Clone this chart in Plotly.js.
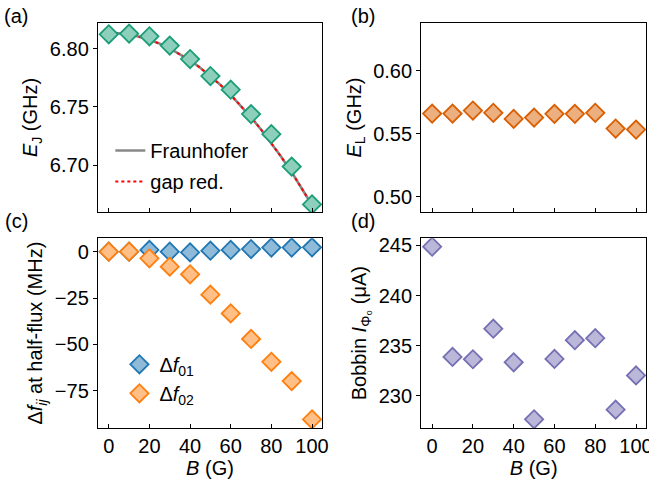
<!DOCTYPE html>
<html>
<head>
<meta charset="utf-8">
<script src="https://cdn.plot.ly/plotly-3.0.1.min.js"></script>
<style>html,body{margin:0;padding:0;background:#fff;}#chart{width:649px;height:485px;}</style>
</head>
<body>
<div id="chart"></div>
<script>
// ---- data ----
const B = [0, 10, 20, 30, 40, 50, 60, 70, 80, 90, 100];
const EJ = [6.8123, 6.8129, 6.8106, 6.8026, 6.7911, 6.7765, 6.7648, 6.7439, 6.7267, 6.6989, 6.6665];
const B_fit = [0, 5, 10, 15, 20, 25, 30, 35, 40, 45, 50, 55, 60, 65, 70, 75, 80, 85, 90, 95, 100];
const EJ_fraunhofer = [6.8135, 6.8131, 6.8120, 6.8102, 6.8076, 6.8043, 6.8002, 6.7954, 6.7899, 6.7836, 6.7766, 6.7689, 6.7604, 6.7512, 6.7412, 6.7305, 6.7191, 6.7069, 6.6940, 6.6804, 6.6660];
const EJ_gapred = [6.8135, 6.8131, 6.8120, 6.8102, 6.8076, 6.8043, 6.8002, 6.7954, 6.7899, 6.7836, 6.7766, 6.7689, 6.7604, 6.7512, 6.7412, 6.7305, 6.7191, 6.7069, 6.6940, 6.6804, 6.6660];
const EL = [0.5661, 0.5661, 0.5685, 0.5667, 0.5619, 0.5629, 0.5659, 0.5659, 0.5667, 0.5542, 0.5534];
const df01 = [0.0, 0.0, 0.9, 0.0, -0.4, 0.5, 0.9, 1.4, 2.2, 2.2, 2.3];
const df02 = [0.0, 0.0, -3.6, -8.1, -12.2, -23.2, -33.3, -47.1, -59.4, -69.8, -90.5];
const Iphi0 = [244.86, 233.88, 233.65, 236.69, 233.35, 227.67, 233.68, 235.55, 235.75, 228.63, 232.04];
const xTicks = [0, 20, 40, 60, 80, 100];
const panelLabels = ['(a)', '(b)', '(c)', '(d)'];

const FONT = 'Liberation Sans, Arial, sans-serif';
const FS = 20;

function mk(fill, edge) {
  return {symbol: 'diamond', size: 14, color: fill, line: {color: edge, width: 1.8}};
}

const traces = [
  {x: B_fit, y: EJ_fraunhofer, xaxis: 'x', yaxis: 'y', mode: 'lines', name: 'Fraunhofer',
   line: {color: '#888888', width: 2.6}, legend: 'legend', legendgroup: 'g1'},
  {x: B_fit, y: EJ_gapred, xaxis: 'x', yaxis: 'y', mode: 'lines', name: 'gap red.',
   line: {color: '#ff0000', width: 2, dash: 'dot'}, legend: 'legend', legendgroup: 'g2'},
  {x: B, y: EJ, xaxis: 'x', yaxis: 'y', mode: 'markers', showlegend: false,
   marker: mk('#8dcfbb', '#1b9e77')},
  {x: B, y: EL, xaxis: 'x2', yaxis: 'y2', mode: 'markers', showlegend: false,
   marker: mk('#ecaf80', '#d95f02')},
  {x: B, y: df01, xaxis: 'x3', yaxis: 'y3', mode: 'markers', name: 'Δ<i>f</i><sub>01</sub>',
   marker: mk('#8fbbd9', '#1f77b4'), legend: 'legend2', legendgroup: 'h1'},
  {x: B, y: df02, xaxis: 'x3', yaxis: 'y3', mode: 'markers', name: 'Δ<i>f</i><sub>02</sub>',
   marker: mk('#ffbf86', '#ff7f0e'), legend: 'legend2', legendgroup: 'h2'},
  {x: B, y: Iphi0, xaxis: 'x4', yaxis: 'y4', mode: 'markers', showlegend: false,
   marker: mk('#bab7d9', '#7570b3')}
];

const colL = [0.1510, 0.4961];
const colR = [0.6492, 0.9954];
const rowT = [0.5629, 0.9526];
const rowB = [0.1175, 0.5087];

function xax(dom, anchor, labels) {
  const a = {domain: dom, anchor: anchor, range: [-5.3, 104.9], tickvals: xTicks,
    ticks: 'inside', ticklen: 4, tickwidth: 1, tickcolor: '#000',
    showline: true, mirror: true, linecolor: '#000', linewidth: 1.2,
    showgrid: false, zeroline: false, showticklabels: labels,
    ticklabeloverflow: 'allow',
    tickfont: {family: FONT, size: FS, color: '#000'}};
  if (labels) a.title = {text: '<i>B</i> (G)', font: {family: FONT, size: FS, color: '#000'}, standoff: 4};
  return a;
}
function yax(dom, anchor, range, tickvals, fmt, title) {
  return {domain: dom, anchor: anchor, range: range, tickvals: tickvals, tickformat: fmt,
    ticks: 'outside', ticklen: 4, tickwidth: 1, tickcolor: '#000',
    showline: true, mirror: true, linecolor: '#000', linewidth: 1.2,
    showgrid: false, zeroline: false,
    tickfont: {family: FONT, size: FS, color: '#000'},
    title: {text: title, font: {family: FONT, size: FS, color: '#000'}, standoff: 6}};
}

const annPos = [[0.0247, 0.968], [0.559, 0.968], [0.0247, 0.544], [0.559, 0.544]];
const annotations = panelLabels.map((t, i) => ({
  text: t, xref: 'paper', yref: 'paper', x: annPos[i][0], y: annPos[i][1],
  xanchor: 'center', yanchor: 'middle', showarrow: false,
  font: {family: FONT, size: FS, color: '#000'}
}));

const layout = {
  width: 649, height: 485,
  margin: {l: 0, r: 0, t: 0, b: 0},
  paper_bgcolor: '#fff', plot_bgcolor: '#fff',
  showlegend: true,
  xaxis: xax(colL, 'y', false),
  yaxis: yax(rowT, 'x', [6.660, 6.822], [6.70, 6.75, 6.80], '.2f', '<i>E</i><sub>J</sub> (GHz)'),
  xaxis2: xax(colR, 'y2', false),
  yaxis2: yax(rowT, 'x2', [0.488, 0.638], [0.50, 0.55, 0.60], '.2f', '<i>E</i><sub>L</sub> (GHz)'),
  xaxis3: xax(colL, 'y3', true),
  yaxis3: yax(rowB, 'x3', [-95.1, 7.2], [-75, -50, -25, 0], 'd', 'Δ<i>f<sub>ij</sub></i> at half-flux (MHz)'),
  xaxis4: xax(colR, 'y4', true),
  yaxis4: yax(rowB, 'x4', [226.8, 245.7], [230, 235, 240, 245], 'd', 'Bobbin <i>I</i><sub>Φ₀</sub> (μA)'),
  legend: {x: 0.170, y: 0.730, xanchor: 'left', yanchor: 'top', bgcolor: 'rgba(0,0,0,0)',
    font: {family: FONT, size: FS, color: '#000'}, traceorder: 'grouped', tracegroupgap: 2},
  legend2: {x: 0.184, y: 0.289, xanchor: 'left', yanchor: 'top', bgcolor: 'rgba(0,0,0,0)',
    font: {family: FONT, size: FS, color: '#000'}, traceorder: 'grouped', tracegroupgap: 0},
  annotations: annotations
};

Plotly.newPlot('chart', traces, layout, {displayModeBar: false, staticPlot: true});
</script>
</body>
</html>
